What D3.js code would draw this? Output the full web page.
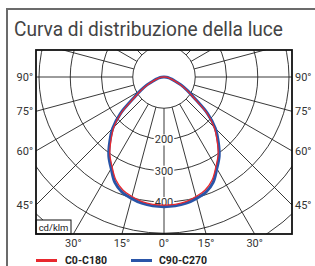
<!DOCTYPE html>
<html><head><meta charset="utf-8">
<script src="https://cdn.jsdelivr.net/npm/d3@7"></script>
<style>
html,body{margin:0;padding:0;background:#fff;}
svg{display:block;font-family:Roboto,"Noto Sans",sans-serif;}
</style></head>
<body>
<svg id="chart" width="315" height="266"></svg>
<script>
// ---- data ----
const title = "Curva di distribuzione della luce";
const gammaAngles = [0,5,10,15,20,25,30,35,40,45,50,55,60,65,70,75,80,85,90];
const c0c180  = [410,409,405,396,385,364,332,302,264,227,178,117,84,58,36,23,15,8,0];
const c90c270 = [415,414,410,402,392,372,338,308,270,232,182,120,86,60,37,24,16,8,0];
const seriesNames = ["C0-C180","C90-C270"];
const seriesColors = ["#e8282e","#2a55a8"];
const ringValues = [100,200,300,400,500,600,700,800];
const ringLabels = [200,300,400];
const gridAngles = [15,30,45,60,75,90,105,120,135,150,165,180];
const sideLabels = [90,75,60,45];
const bottomLabels = [-30,-15,0,15,30];
const unitLabel = "cd/klm";

// ---- layout ----
const svg = d3.select("#chart");
const P = {x0:36, x1:292, y0:50, y1:234};
const cx = 164, cy = 77;
const r = d3.scaleLinear().domain([0,400]).range([0,125]);
const rad = d => d*Math.PI/180;

// outer frame
svg.append("path").attr("d","M7,266 V9 H315").attr("fill","none")
  .attr("stroke","#6b6b6b").attr("stroke-width",2);

svg.append("text").attr("x",14).attr("y",36).text(title)
  .attr("font-size",21).attr("fill","#444")
  .attr("textLength",269).attr("lengthAdjust","spacingAndGlyphs");

// clip
svg.append("clipPath").attr("id","clip").append("rect")
  .attr("x",P.x0).attr("y",P.y0).attr("width",P.x1-P.x0).attr("height",P.y1-P.y0);
const g = svg.append("g").attr("clip-path","url(#clip)");

// rings
g.selectAll("circle.ring").data(ringValues).join("circle").attr("class","ring")
  .attr("cx",cx).attr("cy",cy).attr("r",d=>r(d))
  .attr("fill","none").attr("stroke","#222").attr("stroke-width",0.9);

// radial lines (from inner ring outward), both sides
const rays = [0];
gridAngles.forEach(a=>{rays.push(a); if(a!==180) rays.push(-a);});
const rMax = 400;
g.selectAll("line.ray").data(rays).join("line").attr("class","ray")
  .attr("x1",d=>cx+r(100)*Math.sin(rad(d))).attr("y1",d=>cy+r(100)*Math.cos(rad(d)))
  .attr("x2",d=>cx+rMax*Math.sin(rad(d))).attr("y2",d=>cy+rMax*Math.cos(rad(d)))
  .attr("stroke","#222").attr("stroke-width",0.9);

// ring labels on the 0° line
ringLabels.forEach(v=>{
  const y = cy + r(v);
  const t = g.append("text").attr("x",cx).attr("y",y).attr("dy","0.36em")
    .attr("text-anchor","middle").attr("font-size",11).attr("fill","#333").text(v);
  const bb = t.node().getBBox();
  g.insert("rect","text").attr("x",bb.x-1).attr("y",bb.y+1).attr("width",bb.width+2)
    .attr("height",bb.height-2).attr("fill","#fff");
});

// curves
const line = d3.lineRadial().angle(d=>Math.PI - rad(d[0])).radius(d=>r(d[1]))
  .curve(d3.curveCatmullRomClosed);
function pts(vals){
  const p=[];
  for(let i=gammaAngles.length-1;i>=0;i--) p.push([-gammaAngles[i],vals[i]]);
  for(let i=1;i<gammaAngles.length-1;i++) p.push([gammaAngles[i],vals[i]]);
  return p;
}
const curves = g.append("g").attr("transform",`translate(${cx},${cy})`);
curves.append("path").attr("d",line(pts(c90c270))).attr("fill","none")
  .attr("stroke",seriesColors[1]).attr("stroke-width",3);
curves.append("path").attr("d",line(pts(c0c180))).attr("fill","none")
  .attr("stroke",seriesColors[0]).attr("stroke-width",1.3);

// unit box
svg.append("rect").attr("x",P.x0).attr("y",220).attr("width",35).attr("height",P.y1-220)
  .attr("fill","#fff").attr("stroke","#111").attr("stroke-width",1);
svg.append("text").attr("x",P.x0+17.5).attr("y",231).attr("text-anchor","middle")
  .attr("font-size",9.5).attr("fill","#222").text(unitLabel);

// plot border
svg.append("rect").attr("x",P.x0).attr("y",P.y0).attr("width",P.x1-P.x0).attr("height",P.y1-P.y0)
  .attr("fill","none").attr("stroke","#111").attr("stroke-width",1.8);

// side labels
sideLabels.forEach(a=>{
  const yy = a===90 ? cy : cy + (cx-P.x0)*Math.cos(rad(a))/Math.sin(rad(a));
  svg.append("text").attr("x",P.x0-3).attr("y",yy).attr("dy","0.36em").attr("text-anchor","end")
    .attr("font-size",11).attr("fill","#333").text(a+"°");
  svg.append("text").attr("x",P.x1+3).attr("y",yy).attr("dy","0.36em").attr("text-anchor","start")
    .attr("font-size",11).attr("fill","#333").text(a+"°");
});
// bottom labels
bottomLabels.forEach(a=>{
  const x = cx + (P.y1-cy)*Math.tan(rad(a));
  svg.append("text").attr("x",x).attr("y",247).attr("text-anchor","middle")
    .attr("font-size",11).attr("fill","#333").text(Math.abs(a)+"°");
});

// legend
const leg = [{x:36,tx:65},{x:131,tx:159}];
leg.forEach((l,i)=>{
  svg.append("line").attr("x1",l.x).attr("x2",l.x+21).attr("y1",260.5).attr("y2",260.5)
    .attr("stroke",seriesColors[i]).attr("stroke-width",3);
  svg.append("text").attr("x",l.tx).attr("y",263.5).attr("font-size",10.5).attr("font-weight","bold")
    .attr("fill","#222").text(seriesNames[i]);
});
</script>
</body></html>
